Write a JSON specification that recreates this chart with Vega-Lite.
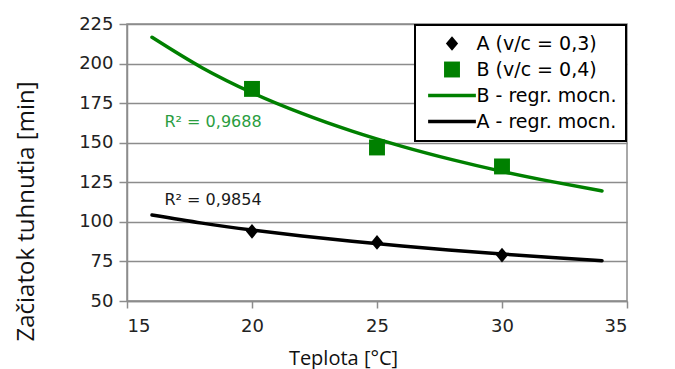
{
  "$schema": "https://vega.github.io/schema/vega-lite/v6.json",
  "width": 500,
  "height": 277,
  "autosize": {"type": "none"},
  "padding": {"left": 127, "top": 24, "right": 48, "bottom": 68},
  "background": "white",
  "config": {
    "view": {"stroke": "#8c8c8c", "strokeWidth": 1.5},
    "legend": {
      "orient": "top-right",
      "offset": 1,
      "padding": 9,
      "rowPadding": 6,
      "symbolSize": 150,
      "symbolOffset": 18.5,
      "labelOffset": 15,
      "labelFont": "DejaVu Sans",
      "labelFontSize": 19,
      "labelColor": "black",
      "labelLimit": 0,
      "strokeColor": "black",
      "strokeWidth": 2,
      "fillColor": "white",
      "symbolStrokeWidth": 0
    }
  },
  "datasets": {
    "points": [
      {"t": 20, "min": 94, "series": "A (v/c = 0,3)"},
      {"t": 25, "min": 87, "series": "A (v/c = 0,3)"},
      {"t": 30, "min": 79, "series": "A (v/c = 0,3)"},
      {"t": 20, "min": 184, "series": "B (v/c = 0,4)"},
      {"t": 25, "min": 147, "series": "B (v/c = 0,4)"},
      {"t": 30, "min": 135, "series": "B (v/c = 0,4)"}
    ],
    "curves": [
      {"t": 16, "min": 216.6, "series": "B - regr. mocn."},
      {"t": 18, "min": 197.4, "series": "B - regr. mocn."},
      {"t": 20, "min": 181.6, "series": "B - regr. mocn."},
      {"t": 22, "min": 168.5, "series": "B - regr. mocn."},
      {"t": 24, "min": 157.3, "series": "B - regr. mocn."},
      {"t": 26, "min": 147.7, "series": "B - regr. mocn."},
      {"t": 28, "min": 139.3, "series": "B - regr. mocn."},
      {"t": 30, "min": 131.9, "series": "B - regr. mocn."},
      {"t": 32, "min": 125.4, "series": "B - regr. mocn."},
      {"t": 34, "min": 119.5, "series": "B - regr. mocn."},
      {"t": 16, "min": 104.3, "series": "A - regr. mocn."},
      {"t": 18, "min": 99.2, "series": "A - regr. mocn."},
      {"t": 20, "min": 94.8, "series": "A - regr. mocn."},
      {"t": 22, "min": 91.0, "series": "A - regr. mocn."},
      {"t": 24, "min": 87.7, "series": "A - regr. mocn."},
      {"t": 26, "min": 84.7, "series": "A - regr. mocn."},
      {"t": 28, "min": 82.1, "series": "A - regr. mocn."},
      {"t": 30, "min": 79.7, "series": "A - regr. mocn."},
      {"t": 32, "min": 77.5, "series": "A - regr. mocn."},
      {"t": 34, "min": 75.5, "series": "A - regr. mocn."}
    ],
    "notes": [
      {"t": 16.5, "min": 163, "label": "R² = 0,9688", "group": "B"},
      {"t": 16.5, "min": 114, "label": "R² = 0,9854", "group": "A"}
    ]
  },
  "encoding": {
    "x": {
      "field": "t", "type": "quantitative",
      "scale": {"domain": [15, 35], "nice": false, "zero": false},
      "axis": {
        "title": "Teplota [°C]",
        "values": [15, 20, 25, 30, 35],
        "grid": false,
        "titleX": 216, "titleY": 63, "titleBaseline": "alphabetic",
        "titleFont": "Open Sans", "titleFontSize": 20, "titleFontWeight": "normal", "titleColor": "#111111",
        "labelFont": "DejaVu Sans", "labelFontSize": 18, "labelColor": "#222222",
        "tickSize": 7, "labelPadding": 9,
        "domainColor": "#8c8c8c", "domainWidth": 1.5, "tickColor": "#8c8c8c", "tickWidth": 1.5
      }
    },
    "y": {
      "field": "min", "type": "quantitative",
      "scale": {"domain": [50, 225], "nice": false, "zero": false},
      "axis": {
        "title": "Začiatok tuhnutia [min]",
        "values": [50, 75, 100, 125, 150, 175, 200, 225],
        "grid": true, "gridColor": "#8c8c8c", "gridWidth": 1.5,
        "titleX": -94, "titleY": 187, "titleBaseline": "alphabetic", "titleAlign": "center", "titleAngle": -90,
        "titleFont": "Open Sans", "titleFontSize": 24, "titleFontWeight": "normal", "titleColor": "#111111",
        "labelFont": "DejaVu Sans", "labelFontSize": 18, "labelColor": "#222222",
        "tickSize": 8, "labelPadding": 6,
        "domainColor": "#8c8c8c", "domainWidth": 1.5, "tickColor": "#8c8c8c", "tickWidth": 1.5
      }
    },
    "color": {
      "field": "series", "type": "nominal",
      "scale": {
        "domain": ["A (v/c = 0,3)", "B (v/c = 0,4)", "B - regr. mocn.", "A - regr. mocn."],
        "range": ["black", "#008000", "#008000", "black"]
      },
      "legend": {"title": null}
    }
  },
  "layer": [
    {
      "data": {"name": "curves"},
      "mark": {"type": "line", "strokeWidth": 3.5, "interpolate": "monotone", "strokeCap": "round"}
    },
    {
      "data": {"name": "points"},
      "mark": {"type": "point", "filled": true, "opacity": 1, "size": 150},
      "encoding": {
        "shape": {
          "field": "series", "type": "nominal",
          "scale": {
            "domain": ["A (v/c = 0,3)", "B (v/c = 0,4)", "B - regr. mocn.", "A - regr. mocn."],
            "range": ["M0,-1.2L1,0L0,1.2L-1,0Z", "M-1.3,-1.3H1.3V1.3H-1.3Z", "M-3.9,-0.3H3.9V0.3H-3.9Z", "M-3.9,-0.3H3.9V0.3H-3.9Z"]
          },
          "legend": {"title": null}
        }
      }
    },
    {
      "data": {"name": "notes"},
      "mark": {"type": "text", "align": "left", "baseline": "middle", "font": "DejaVu Sans", "fontSize": 16},
      "encoding": {
        "text": {"field": "label"},
        "color": {
          "condition": {"test": "datum.group === 'B'", "value": "#2a9d3f"},
          "value": "#1a1a1a"
        }
      }
    }
  ]
}
